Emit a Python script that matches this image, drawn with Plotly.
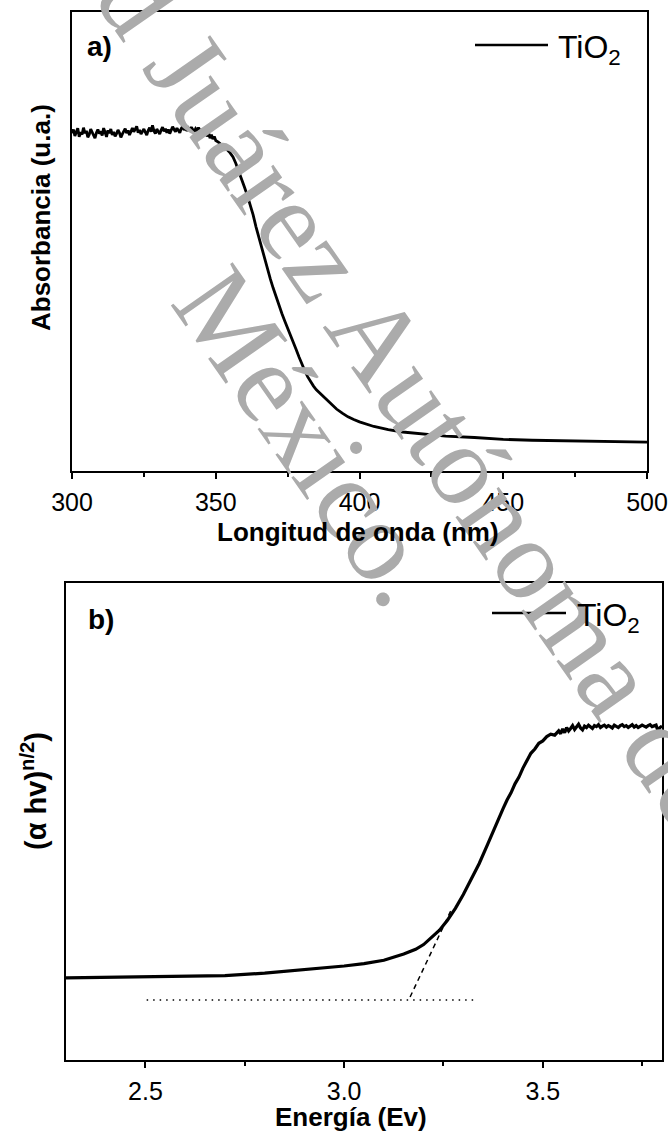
import plotly.graph_objects as go

W, H = 668, 1131

# ---------------- data: panel a (UV-Vis absorbance) ----------------
wl_plateau = [300.0, 300.5, 301.0, 301.5, 302.0, 302.5, 303.0, 303.5, 304.0, 304.5,
              305.0, 305.5, 306.0, 306.5, 307.0, 307.5, 308.0, 308.5, 309.0, 309.5,
              310.0, 310.5, 311.0, 311.5, 312.0, 312.5, 313.0, 313.5, 314.0, 314.5,
              315.0, 315.5, 316.0, 316.5, 317.0, 317.5, 318.0, 318.5, 319.0, 319.5,
              320.0, 320.5, 321.0, 321.5, 322.0, 322.5, 323.0, 323.5, 324.0, 324.5,
              325.0, 325.5, 326.0, 326.5, 327.0, 327.5, 328.0, 328.5, 329.0, 329.5,
              330.0, 330.5, 331.0, 331.5, 332.0, 332.5, 333.0, 333.5, 334.0, 334.5,
              335.0, 335.5, 336.0, 336.5, 337.0, 337.5, 338.0, 338.5, 339.0, 339.5,
              340.0, 340.5, 341.0, 341.5, 342.0, 342.5, 343.0, 343.5, 344.0, 344.5,
              345.0, 345.5, 346.0, 346.5, 347.0, 347.5, 348.0, 348.5, 349.0, 349.5,
              350.0]
abs_plateau = [0.736, 0.744, 0.730, 0.739, 0.747, 0.728, 0.738, 0.733, 0.748, 0.736,
               0.741, 0.727, 0.733, 0.745, 0.739, 0.730, 0.725, 0.737, 0.744, 0.735,
               0.740, 0.731, 0.747, 0.738, 0.728, 0.742, 0.736, 0.745, 0.732, 0.739,
               0.729, 0.735, 0.743, 0.737, 0.727, 0.734, 0.741, 0.746, 0.736, 0.742,
               0.732, 0.738, 0.747, 0.739, 0.744, 0.751, 0.737, 0.743, 0.734, 0.740,
               0.745, 0.738, 0.732, 0.742, 0.748, 0.739, 0.753, 0.741, 0.735, 0.745,
               0.739, 0.734, 0.743, 0.749, 0.740, 0.746, 0.737, 0.744, 0.735, 0.742,
               0.750, 0.744, 0.739, 0.747, 0.742, 0.737, 0.746, 0.751, 0.743, 0.748,
               0.741, 0.747, 0.743, 0.749, 0.744, 0.739, 0.746, 0.742, 0.748, 0.743,
               0.738, 0.745, 0.734, 0.741, 0.729, 0.737, 0.725, 0.733, 0.723, 0.729,
               0.720]
wl_edge = [351, 352, 353, 354, 355, 356, 357, 358, 359, 360, 361, 362, 363, 364, 365,
           366, 367, 368, 369, 370, 371, 372, 373, 374, 375, 376, 377, 378, 379, 380,
           381, 382, 383, 384, 385, 386, 388, 390, 392, 394, 396, 398, 400, 405, 410,
           415, 420, 425, 430, 440, 450, 460, 470, 480, 490, 500]
abs_edge = [0.716, 0.711, 0.706, 0.700, 0.693, 0.684, 0.670, 0.654, 0.636, 0.618,
            0.600, 0.580, 0.558, 0.532, 0.508, 0.485, 0.462, 0.440, 0.418, 0.398,
            0.378, 0.360, 0.343, 0.327, 0.312, 0.298, 0.281, 0.264, 0.248, 0.232,
            0.218, 0.205, 0.194, 0.185, 0.177, 0.171, 0.158, 0.146, 0.135, 0.126,
            0.118, 0.112, 0.107, 0.097, 0.090, 0.085, 0.082, 0.078, 0.076, 0.073,
            0.069, 0.067, 0.066, 0.065, 0.064, 0.063]
wavelength = wl_plateau + wl_edge
absorbance = abs_plateau + abs_edge

# ---------------- data: panel b (Tauc plot) ----------------
energy = [2.30, 2.40, 2.50, 2.60, 2.70, 2.80, 2.90, 2.95, 3.00, 3.05, 3.10, 3.15, 3.18,
          3.20, 3.22, 3.24, 3.26, 3.28, 3.30, 3.32, 3.34, 3.36, 3.38, 3.40, 3.41, 3.42,
          3.43, 3.44, 3.45, 3.46, 3.47, 3.48, 3.49, 3.50, 3.51, 3.52, 3.53, 3.54, 3.545,
          3.55, 3.555, 3.56, 3.565, 3.57, 3.575, 3.58, 3.585, 3.59, 3.595, 3.60, 3.605,
          3.61, 3.615, 3.62, 3.625, 3.63, 3.635, 3.64, 3.645, 3.65, 3.655, 3.66, 3.665,
          3.67, 3.675, 3.68, 3.685, 3.69, 3.695, 3.70, 3.705, 3.71, 3.715, 3.72, 3.725,
          3.73, 3.735, 3.74, 3.745, 3.75, 3.755, 3.76, 3.765, 3.77, 3.775, 3.78, 3.785,
          3.79, 3.795, 3.80]
tauc = [0.172, 0.173, 0.174, 0.175, 0.177, 0.182, 0.189, 0.193, 0.197, 0.202, 0.209,
        0.222, 0.232, 0.242, 0.256, 0.272, 0.293, 0.318, 0.347, 0.378, 0.412, 0.450,
        0.490, 0.527, 0.545, 0.560, 0.579, 0.593, 0.612, 0.626, 0.643, 0.652, 0.664,
        0.669, 0.678, 0.683, 0.681, 0.690, 0.684, 0.694, 0.686, 0.697, 0.690, 0.695,
        0.701, 0.693, 0.699, 0.704, 0.696, 0.692, 0.700, 0.697, 0.702, 0.698, 0.695,
        0.701, 0.699, 0.703, 0.697, 0.700, 0.702, 0.698, 0.701, 0.699, 0.696, 0.702,
        0.700, 0.697, 0.701, 0.703, 0.699, 0.701, 0.697, 0.700, 0.703, 0.698, 0.701,
        0.697, 0.699, 0.702, 0.700, 0.698, 0.701, 0.703, 0.699, 0.700, 0.702, 0.690,
        0.697, 0.700]
tangent_x = [3.166, 3.272]
tangent_y = [0.132, 0.319]
baseline_x = [2.503, 3.337]
baseline_y = [0.126, 0.126]

xticks_a = [300, 350, 400, 450, 500]
xticks_b = [2.5, 3.0, 3.5]
xticklabels_b = ["2.5", "3.0", "3.5"]

series_name = "TiO<sub>2</sub>"

SANS = "Liberation Sans, Arial, sans-serif"
SERIF = "Liberation Serif, Times New Roman, serif"


def px(x):
    return x / W


def py(y):
    return 1 - y / H


fig = go.Figure()
fig.add_trace(go.Scatter(x=wavelength, y=absorbance, mode="lines",
                         line=dict(color="black", width=2.8),
                         xaxis="x", yaxis="y", showlegend=False))
fig.add_trace(go.Scatter(x=energy, y=tauc, mode="lines",
                         line=dict(color="black", width=3.2),
                         xaxis="x2", yaxis="y2", showlegend=False))
fig.add_trace(go.Scatter(x=tangent_x, y=tangent_y, mode="lines",
                         line=dict(color="black", width=1.5, dash="5px,4px"),
                         xaxis="x2", yaxis="y2", showlegend=False))
fig.add_trace(go.Scatter(x=baseline_x, y=baseline_y, mode="lines",
                         line=dict(color="black", width=1.5, dash="1.5px,5px"),
                         xaxis="x2", yaxis="y2", showlegend=False))

axis_common = dict(showline=True, linecolor="black", linewidth=1.5, mirror=True,
                   showgrid=False, zeroline=False)
xcommon = dict(ticks="outside", ticklen=6, tickwidth=1.5, tickcolor="black",
               tickfont=dict(family=SANS, size=25, color="black"),
               ticklabelstandoff=2, ticklabeloverflow="allow")

fig.update_layout(
    width=W, height=H,
    margin=dict(l=0, r=0, t=0, b=0, autoexpand=False),
    paper_bgcolor="white", plot_bgcolor="white",
    showlegend=False,
    xaxis=dict(domain=[px(72), px(647)], anchor="y", range=[300, 500],
               tickvals=xticks_a,
               minor=dict(dtick=25, tick0=300, ticks="outside", ticklen=4,
                          tickwidth=1.5, tickcolor="black", showgrid=False),
               **axis_common, **xcommon),
    yaxis=dict(domain=[py(471), py(12)], anchor="x", range=[0, 1],
               showticklabels=False, ticks="", **axis_common),
    xaxis2=dict(domain=[px(66), px(662)], anchor="y2", range=[2.3, 3.8],
                tickvals=xticks_b, ticktext=xticklabels_b,
                minor=dict(dtick=0.25, tick0=2.5, ticks="outside", ticklen=4,
                           tickwidth=1.5, tickcolor="black", showgrid=False),
                **axis_common, **xcommon),
    yaxis2=dict(domain=[py(1060), py(583)], anchor="x2", range=[0, 1],
                showticklabels=False, ticks="", **axis_common),
)

# legend samples (manual)
fig.add_shape(type="line", xref="paper", yref="paper",
              x0=px(475), x1=px(548), y0=py(45), y1=py(45),
              line=dict(color="black", width=2.5))
fig.add_shape(type="line", xref="paper", yref="paper",
              x0=px(492), x1=px(566), y0=py(613), y1=py(613),
              line=dict(color="black", width=2.5))

ann = []


def text(t, x, y, size, bold=False, angle=0, xanchor="center", yanchor="middle",
         color="black", family=SANS):
    ann.append(dict(text=("<b>%s</b>" % t) if bold else t, x=px(x), y=py(y),
                    xref="paper", yref="paper", showarrow=False,
                    xanchor=xanchor, yanchor=yanchor, textangle=angle,
                    font=dict(family=family, size=size, color=color)))


# watermark
text("Universidad Juárez Autónoma de Tabasco.", 396, 364, 115, angle=55,
     color="#ababab", family=SERIF)
text("México.", 310, 436, 115, angle=55, color="#ababab", family=SERIF)

text(series_name, 556, 49, 32, xanchor="left")
text(series_name, 575, 617, 32, xanchor="left")
text("a)", 100, 47, 28, bold=True)
text("b)", 101, 619, 28, bold=True)
text("Longitud de onda (nm)", 358, 532, 26, bold=True)
text("Energía (Ev)", 351, 1117, 26, bold=True)
text("Absorbancia (u.a.)", 41, 218, 26, bold=True, angle=-90)
text("(α hv)<sup>n/2</sup>)", 34, 791, 29, bold=True, angle=-90)

fig.update_layout(annotations=ann)

fig.write_html("out.html")
